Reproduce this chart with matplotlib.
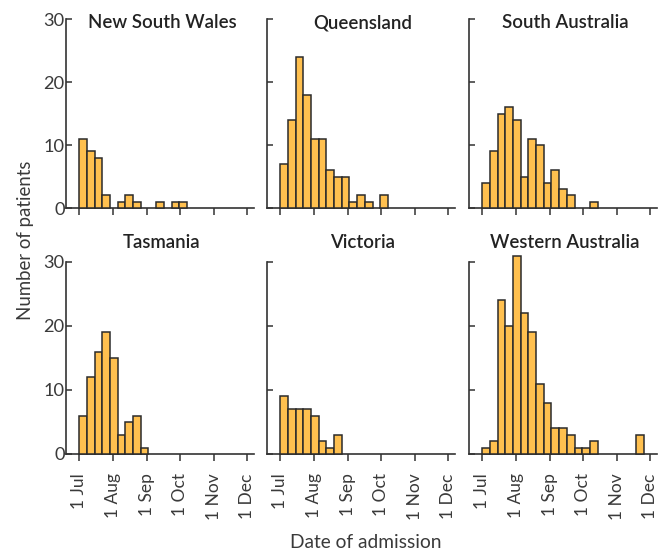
import datetime as dt

import matplotlib
matplotlib.use("Agg")
import matplotlib.pyplot as plt
import matplotlib.dates as mdates

# weekly admission counts, bins start 1 Jul 2009
states = ["New South Wales", "Queensland", "South Australia",
          "Tasmania", "Victoria", "Western Australia"]
nsw = [11, 9, 8, 2, 0, 1, 2, 1, 0, 0, 1, 0, 1, 1]
qld = [7, 14, 24, 18, 11, 11, 6, 5, 5, 1, 2, 1, 0, 2]
sa = [4, 9, 15, 16, 14, 5, 11, 10, 4, 6, 3, 2, 0, 0, 1]
tas = [6, 12, 16, 19, 15, 3, 5, 6, 1]
vic = [9, 7, 7, 7, 6, 2, 1, 3]
wa = [1, 2, 24, 20, 31, 22, 19, 11, 8, 4, 4, 3, 1, 1, 2, 0, 0, 0, 0, 0, 3]
counts = [nsw, qld, sa, tas, vic, wa]

start = dt.date(2009, 7, 1)
tick_dates = [dt.date(2009, m, 1) for m in range(7, 13)]
tick_labels = ["1 Jul", "1 Aug", "1 Sep", "1 Oct", "1 Nov", "1 Dec"]
y_ticks = [0, 10, 20, 30]

BAR = "#FFC04F"
EDGE = "#2b2b2b"
TXT = "#3a3a3a"
plt.rcParams["font.family"] = ["Lato", "DejaVu Sans"]

fig = plt.figure(figsize=(6.58, 5.53), dpi=100)
W, H = 658, 553
renderer = fig.canvas.get_renderer()


def fit_size(text, target_px, weight="normal"):
    """Font size (pt) at which `text` is target_px long."""
    t = fig.text(0, 0, text, fontsize=10, fontweight=weight)
    w = t.get_window_extent(renderer).width
    t.remove()
    return 10 * target_px / w


title_fs = fit_size("New South Wales", 148, "semibold")
xtick_fs = fit_size("1 Aug", 45)
ytick_fs = fit_size("30", 21)
ylab_fs = fit_size("Number of patients", 160)
xlab_fs = fit_size("Date of admission", 152)

lefts = [66, 267, 469]
width = 188
rows = [(208, 19, 23), (454, 262, 242)]  # (y of zero, y of 30, title y) in px

for i, (name, vals) in enumerate(zip(states, counts)):
    r, c = divmod(i, 3)
    y0, y30, ty = rows[r]
    ax = fig.add_axes([lefts[c] / W, (H - y0) / H, width / W, (y0 - y30) / H])

    x = [mdates.date2num(start + dt.timedelta(days=7 * k)) for k in range(len(vals))]
    xs = [xi for xi, v in zip(x, vals) if v > 0]
    vs = [v for v in vals if v > 0]
    ax.bar(xs, vs, width=7, align="edge", color=BAR, edgecolor=EDGE,
           linewidth=1.1, clip_on=False, zorder=3)

    ax.set_xlim(mdates.date2num(dt.date(2009, 6, 19)),
                mdates.date2num(dt.date(2009, 12, 7)))
    ax.set_ylim(0, 30)
    for s in ("top", "right"):
        ax.spines[s].set_visible(False)
    for s in ("left", "bottom"):
        ax.spines[s].set_color("#333333")
        ax.spines[s].set_linewidth(1.2)

    ax.set_xticks([mdates.date2num(d) for d in tick_dates])
    ax.set_yticks(y_ticks)
    ax.tick_params(axis="x", direction="out", length=5, width=1.1,
                   color="#333333", labelsize=xtick_fs, labelcolor=TXT, pad=9)
    ax.tick_params(axis="y", direction="in", length=4, width=1.1,
                   color="#333333", labelsize=ytick_fs, labelcolor=TXT, pad=1)
    if r == 1:
        ax.set_xticklabels(tick_labels, rotation=90)
    else:
        ax.set_xticklabels([])
    if c != 0:
        ax.set_yticklabels([])

    fig.text((lefts[c] + width / 2 + 2) / W, (H - ty) / H, name,
             ha="center", va="center", fontsize=title_fs, fontweight="semibold",
             color="#222222")

fig.text(26 / W, (H - 240) / H, "Number of patients", rotation=90,
         ha="center", va="center", fontsize=ylab_fs, color=TXT)
fig.text(366 / W, (H - 543) / H, "Date of admission",
         ha="center", va="center", fontsize=xlab_fs, color=TXT)

fig.savefig("out.png", dpi=100)
